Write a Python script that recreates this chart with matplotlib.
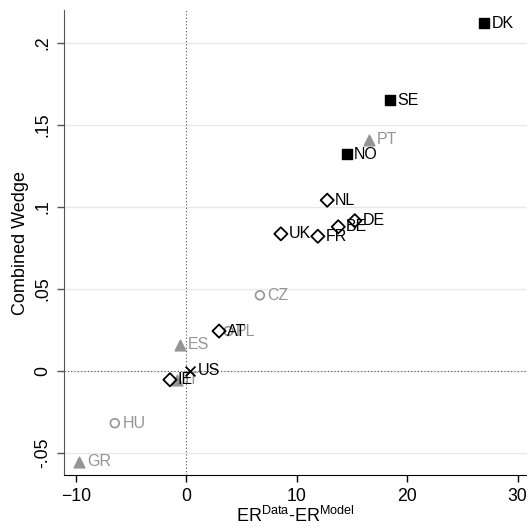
"""Combined wedge against the employment-rate gap, by country."""

import matplotlib

matplotlib.use("Agg")
import matplotlib.pyplot as plt

plt.rcParams["font.family"] = ["Liberation Sans", "DejaVu Sans"]
plt.rcParams["mathtext.fontset"] = "custom"
plt.rcParams["mathtext.rm"] = "Liberation Sans"

GREY = "#959595"

# country groups: label, ER gap, combined wedge
nordic_labels = ["DK", "SE", "NO"]
nordic_x = [26.95, 18.4, 14.5]
nordic_y = [0.212, 0.165, 0.132]

south_labels = ["PT", "ES", "IT", "GR"]
south_x = [16.5, -0.6, -0.9, -9.7]
south_y = [0.141, 0.016, -0.0055, -0.0555]

core_labels = ["NL", "DE", "BE", "UK", "FR", "AT", "IE"]
core_x = [12.75, 15.25, 13.75, 8.55, 11.9, 2.95, -1.5]
core_y = [0.104, 0.0915, 0.0878, 0.0835, 0.082, 0.0242, -0.0055]

east_labels = ["CZ", "PL", "HU"]
east_x = [6.65, 3.8, -6.5]
east_y = [0.046, 0.0242, -0.032]

us_labels = ["US"]
us_x = [0.3]
us_y = [0.0]

x_ticks = [-10, 0, 10, 20, 30]
y_ticks = [-0.05, 0, 0.05, 0.1, 0.15, 0.2]
y_tick_labels = ["-.05", "0", ".05", ".1", ".15", ".2"]


def label_points(ax, labels, xs, ys, color):
    for lab, x, y in zip(labels, xs, ys):
        ax.annotate(lab, (x, y), xytext=(5.5, 0), textcoords="offset points",
                    va="center", ha="left", fontsize=11.5, color=color)


fig = plt.figure(figsize=(5.27, 5.27), dpi=100)
ax = fig.add_axes([0.1214, 0.098, 0.8786, 0.883])

for yt in y_ticks:
    ax.axhline(yt, color="#e8e8e8", linewidth=1.0, zorder=0)
ax.axvline(0, color="#555555", linestyle=(0, (1, 2)), linewidth=0.8, zorder=1)
ax.axhline(0, color="#555555", linestyle=(0, (1, 2)), linewidth=0.8, zorder=1)

ax.scatter(east_x, east_y, marker="o", s=40, facecolors="none", edgecolors=GREY, linewidths=1.2, zorder=3)
ax.scatter(south_x, south_y, marker="^", s=60, color=GREY, zorder=3)
ax.scatter(core_x, core_y, marker="D", s=45, facecolors="none", edgecolors="black", linewidths=1.3, zorder=4)
ax.scatter(nordic_x, nordic_y, marker="s", s=45, color="black", zorder=4)
ax.scatter(us_x, us_y, marker="x", s=50, color="black", linewidths=1.3, zorder=4)

label_points(ax, east_labels, east_x, east_y, GREY)
label_points(ax, south_labels, south_x, south_y, GREY)
label_points(ax, core_labels, core_x, core_y, "black")
label_points(ax, nordic_labels, nordic_x, nordic_y, "black")
label_points(ax, us_labels, us_x, us_y, "black")

ax.set_xlim(-11.1, 30.85)
ax.set_ylim(-0.0638, 0.22)
ax.set_xticks(x_ticks)
ax.set_yticks(y_ticks)
ax.set_yticklabels(y_tick_labels, rotation=90, va="center")
ax.tick_params(labelsize=12.7, length=5, width=1, direction="out", pad=4)
ax.tick_params(axis="y", color="#555555")

ax.spines["top"].set_visible(False)
ax.spines["right"].set_visible(False)
ax.spines["left"].set_color("#555555")
ax.spines["bottom"].set_color("black")

ax.set_xlabel(r"ER$^{\mathrm{Data}}$-ER$^{\mathrm{Model}}$", fontsize=13, labelpad=1)
ax.set_ylabel("Combined Wedge", fontsize=13, labelpad=4)

fig.savefig("out.png", dpi=100)
